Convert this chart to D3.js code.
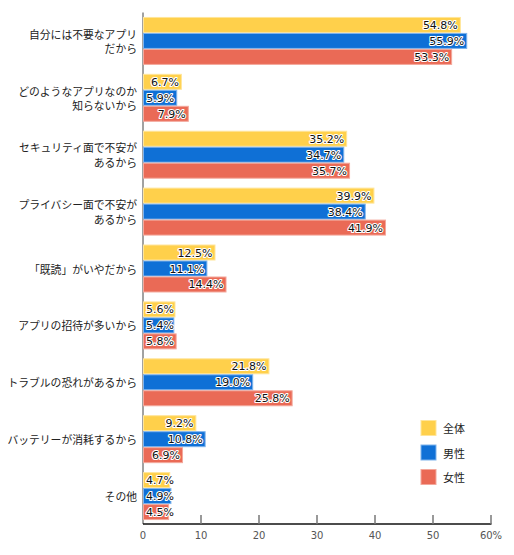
<!DOCTYPE html>
<html><head><meta charset="utf-8">
<script src="https://cdn.jsdelivr.net/npm/d3@7"></script>
<style>
body{margin:0;background:#fff;}
text{font-family:"Noto Sans CJK JP","Noto Sans",sans-serif;}
.num{font-family:"DejaVu Sans","Noto Sans CJK JP",sans-serif;}
</style></head>
<body><svg id="chart" width="514" height="555"></svg>
<script>
const categories = [
  ["自分には不要なアプリ","だから"],
  ["どのようなアプリなのか","知らないから"],
  ["セキュリティ面で不安が","あるから"],
  ["プライバシー面で不安が","あるから"],
  ["「既読」がいやだから"],
  ["アプリの招待が多いから"],
  ["トラブルの恐れがあるから"],
  ["バッテリーが消耗するから"],
  ["その他"]
];
const seriesNames = ["全体","男性","女性"];
const zentai = [54.8, 6.7, 35.2, 39.9, 12.5, 5.6, 21.8, 9.2, 4.7];
const dansei = [55.9, 5.9, 34.7, 38.4, 11.1, 5.4, 19.0, 10.8, 4.9];
const josei  = [53.3, 7.9, 35.7, 41.9, 14.4, 5.8, 25.8, 6.9, 4.5];
const tickValues = [0,10,20,30,40,50,60];
const tickLabels = ["0","10","20","30","40","50","60%"];

const colors = ["#FFD04B","#0F70D6","#EA6A56"];
const strokes = ["#FFE59A","#7FB3EC","#F3A89C"];
const seriesVals = [zentai, dansei, josei];

const svg = d3.select("#chart");
const x = d3.scaleLinear().domain([0,60]).range([143,491]);
const y = d3.scaleBand().domain(d3.range(categories.length)).range([12.5,524.5]).paddingInner(0.157).paddingOuter(0.078);
const ys = d3.scaleBand().domain(d3.range(3)).range([0,y.bandwidth()]);

// vertical axis line
svg.append("line").attr("x1",143).attr("x2",143).attr("y1",12.5).attr("y2",524)
  .attr("stroke","#444").attr("stroke-width",1);

// bars
categories.forEach((c,i)=>{
  const g = svg.append("g").attr("transform",`translate(0,${y(i)})`);
  seriesVals.forEach((vals,s)=>{
    g.append("rect").attr("x",x(0)+0.5).attr("y",ys(s)+0.5)
      .attr("width",x(vals[i])-x(0)-1).attr("height",ys.bandwidth()-1)
      .attr("fill",colors[s]).attr("stroke",strokes[s]).attr("stroke-width",1);
  });
});

// value labels
categories.forEach((c,i)=>{
  seriesVals.forEach((vals,s)=>{
    const yy = y(i)+ys(s)+ys.bandwidth()/2;
    const t = svg.append("text").attr("class","num").text(vals[i].toFixed(1)+"%")
      .attr("font-size","11px").attr("dominant-baseline","central")
      .attr("text-anchor","end");
    const w = t.node().getComputedTextLength();
    const endX = Math.max(x(vals[i])-3, x(0)+3+w);
    t.attr("x",endX).attr("y",yy+0.5)
      .attr("fill","#111").attr("stroke","#fff").attr("stroke-width",2.2)
      .attr("paint-order","stroke").attr("stroke-linejoin","round");
  });
});

// category labels
categories.forEach((lines,i)=>{
  const cy = y(i)+y.bandwidth()/2;
  const n = lines.length;
  lines.forEach((ln,k)=>{
    svg.append("text").text(ln)
      .attr("x",137).attr("y",cy + (k-(n-1)/2)*14.5)
      .attr("text-anchor","end").attr("dominant-baseline","central")
      .attr("font-size","10.8px").attr("fill","#222");
  });
});

// bottom axis
const ax = svg.append("g").attr("transform","translate(0,524)");
ax.append("line").attr("x1",143).attr("x2",491.5).attr("y1",0).attr("y2",0).attr("stroke","#111").attr("stroke-width",1.5);
tickValues.forEach((v,k)=>{
  if(k>0) ax.append("line").attr("x1",x(v)).attr("x2",x(v)).attr("y1",0).attr("y2",-9)
    .attr("stroke","#777").attr("stroke-width",1.5);
  ax.append("text").attr("class","num").text(tickLabels[k]).attr("x",x(v)).attr("y",11.5)
    .attr("text-anchor","middle").attr("dominant-baseline","central")
    .attr("font-size","10px").attr("fill","#555");
});

// legend
seriesNames.forEach((nm,s)=>{
  const ly = 420 + s*24.5;
  svg.append("rect").attr("x",421).attr("y",ly+0.5).attr("width",15).attr("height",15)
    .attr("fill",colors[s]).attr("stroke",strokes[s]).attr("stroke-width",1);
  svg.append("text").text(nm).attr("x",443).attr("y",ly+8)
    .attr("dominant-baseline","central").attr("font-size","11px").attr("fill","#222");
});
</script></body></html>
